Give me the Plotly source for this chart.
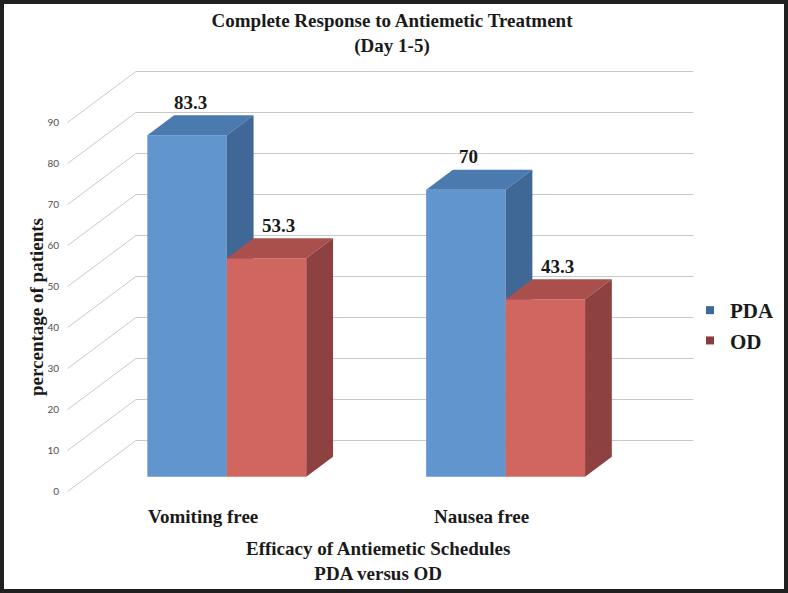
import plotly.graph_objects as go

# ---------------- data ----------------
categories = ["Vomiting free", "Nausea free"]
series_names = ["PDA", "OD"]
pda_values = [83.3, 70]
od_values = [53.3, 43.3]
value_labels_pda = ["83.3", "70"]
value_labels_od = ["53.3", "43.3"]
y_ticks = [0, 10, 20, 30, 40, 50, 60, 70, 80, 90]

# ---------------- style ----------------
PDA_FRONT, PDA_TOP, PDA_SIDE, PDA_LEG = "#6195CE", "#4B7AAE", "#3F6896", "#3D6A9C"
OD_FRONT, OD_TOP, OD_SIDE, OD_LEG = "#D1655F", "#A9504C", "#8D4241", "#8B3B3B"
GRID = "#C9C9C9"
SERIF = "Liberation Serif"
TXT = "#1A1A1A"

# oblique 3-D projection (x in category units, v in value units, z = depth 0..1)
DX, DY = 0.245, 12.44
BAR_Z0, BAR_Z1 = 0.29, 0.682
BAR_W = 0.285


def proj(x, v, z):
    return x + z * DX, v + z * DY


def poly(points, color):
    xs, ys = [], []
    for (x, v, z) in points:
        px, py = proj(x, v, z)
        xs.append(px)
        ys.append(py)
    xs.append(xs[0])
    ys.append(ys[0])
    return go.Scatter(x=xs, y=ys, mode="lines", fill="toself", fillcolor=color,
                      line=dict(width=0, color=color), hoverinfo="skip", showlegend=False)


fig = go.Figure()

# back wall gridlines + side wall diagonals
for t in y_ticks:
    bx0, bv = proj(0, t, 1)
    bx1, _ = proj(len(categories), t, 1)
    fx, fv = proj(0, t, 0)
    fig.add_trace(go.Scatter(x=[fx, bx0, bx1], y=[fv, bv, bv], mode="lines",
                             line=dict(color=GRID, width=1), hoverinfo="skip", showlegend=False))

series = [
    (pda_values, value_labels_pda, PDA_FRONT, PDA_TOP, PDA_SIDE, 3),
    (od_values, value_labels_od, OD_FRONT, OD_TOP, OD_SIDE, 12),
]

for i, cat in enumerate(categories):
    for s, (vals, labs, cf, ct, cs, xs) in enumerate(series):
        v = vals[i]
        x0 = i + 0.5 - BAR_W + s * BAR_W
        x1 = x0 + BAR_W
        z0, z1 = BAR_Z0, BAR_Z1
        fig.add_trace(poly([(x0, 0, z0), (x1, 0, z0), (x1, v, z0), (x0, v, z0)], cf))
        fig.add_trace(poly([(x0, v, z0), (x1, v, z0), (x1, v, z1), (x0, v, z1)], ct))
        fig.add_trace(poly([(x1, 0, z0), (x1, 0, z1), (x1, v, z1), (x1, v, z0)], cs))
        lx, lv = proj((x0 + x1) / 2, v, z0)
        fig.add_annotation(x=lx, y=lv, text=labs[i], showarrow=False, xshift=xs, yshift=33,
                           xanchor="center", yanchor="middle",
                           font=dict(family=SERIF, size=19, color=TXT, weight="bold"))

# category labels
for i, cat in enumerate(categories):
    cx, cv = proj(i + 0.5, 0, 0)
    fig.add_annotation(x=cx - 0.014, y=cv, text=cat, showarrow=False, yshift=-25,
                       xanchor="center", yanchor="middle",
                       font=dict(family=SERIF, size=19, color=TXT, weight="bold"))

# legend entries
fig.add_trace(go.Scatter(x=[None], y=[None], mode="markers", name=series_names[0],
                         marker=dict(symbol="square", size=8, color=PDA_LEG)))
fig.add_trace(go.Scatter(x=[None], y=[None], mode="markers", name=series_names[1],
                         marker=dict(symbol="square", size=8, color=OD_LEG)))

# axis titles
fig.add_annotation(xref="paper", yref="paper", x=378 / 788, y=1 - 561 / 593,
                   xanchor="center", yanchor="middle",
                   text="Efficacy of Antiemetic Schedules<br>PDA versus OD", showarrow=False,
                   font=dict(family=SERIF, size=19, color=TXT, weight="bold"))
fig.add_annotation(xref="paper", yref="paper", x=36 / 788, y=1 - 307 / 593,
                   xanchor="center", yanchor="middle",
                   text="percentage of patients", textangle=-90, showarrow=False,
                   font=dict(family=SERIF, size=19, color=TXT, weight="bold"))

# border
fig.add_shape(type="rect", xref="paper", yref="paper", x0=0, x1=1, y0=0, y1=1,
              line=dict(color="#202020", width=8), layer="above")

fig.update_layout(
    width=788, height=593,
    margin=dict(l=0, r=0, t=0, b=0),
    paper_bgcolor="white", plot_bgcolor="white",
    title=dict(text="Complete Response to Antiemetic Treatment<br>(Day 1-5)",
               x=392 / 788, xanchor="center", xref="container",
               y=1 - 27 / 593, yanchor="top", yref="container",
               font=dict(family=SERIF, size=19, color=TXT, weight="bold")),
    xaxis=dict(domain=[60 / 788, 1], range=[-0.02726, 2.58393], visible=False),
    yaxis=dict(range=[-24.756, 119.878], showgrid=False, zeroline=False, showline=False,
               tickvals=y_ticks, ticks="", tickfont=dict(family="Lato", size=10, color="#505050"),
               automargin=False),
    legend=dict(x=690 / 788, y=1 - 290 / 593, xanchor="left", yanchor="top",
                font=dict(family=SERIF, size=21, color=TXT, weight="bold"),
                bgcolor="rgba(0,0,0,0)", itemwidth=30, tracegroupgap=0),
    showlegend=True,
)

fig.write_html("out.html", config={"displayModeBar": False},
               post_script="document.body.style.margin='0px';")
